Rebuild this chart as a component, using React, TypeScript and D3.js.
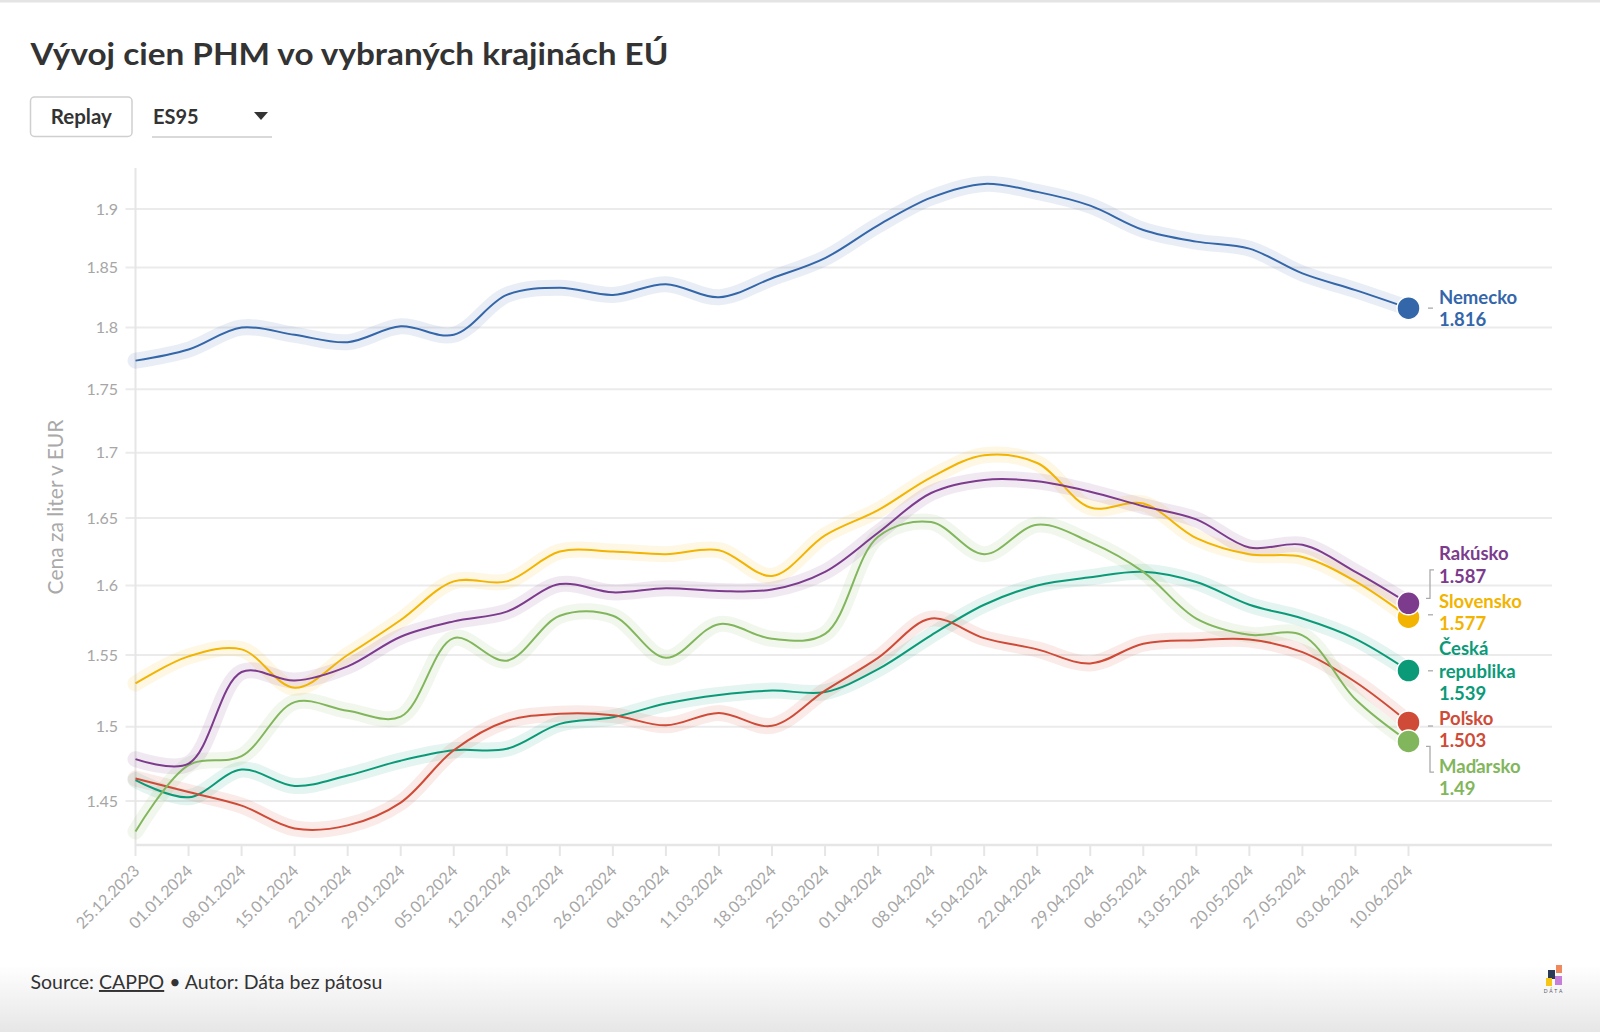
import React from "react";
import * as d3 from "d3";

const dates = ["25.12.2023","01.01.2024","08.01.2024","15.01.2024","22.01.2024","29.01.2024","05.02.2024","12.02.2024","19.02.2024","26.02.2024","04.03.2024","11.03.2024","18.03.2024","25.03.2024","01.04.2024","08.04.2024","15.04.2024","22.04.2024","29.04.2024","06.05.2024","13.05.2024","20.05.2024","27.05.2024","03.06.2024","10.06.2024"];

const nemecko = [1.773,1.782,1.800,1.794,1.788,1.801,1.794,1.827,1.833,1.827,1.836,1.825,1.841,1.858,1.886,1.910,1.922,1.915,1.903,1.882,1.872,1.866,1.845,1.831,1.816];
const rakusko = [1.478,1.475,1.538,1.532,1.542,1.563,1.574,1.581,1.601,1.595,1.598,1.596,1.597,1.610,1.639,1.669,1.679,1.678,1.670,1.659,1.649,1.628,1.630,1.610,1.587];
const slovensko = [1.530,1.549,1.554,1.527,1.550,1.575,1.603,1.603,1.625,1.625,1.623,1.626,1.607,1.637,1.656,1.681,1.698,1.692,1.658,1.661,1.635,1.623,1.621,1.603,1.577];
const ceska = [1.464,1.4525,1.471,1.460,1.467,1.477,1.484,1.485,1.502,1.5065,1.516,1.522,1.525,1.524,1.540,1.564,1.586,1.600,1.606,1.610,1.6025,1.586,1.576,1.5615,1.539];
const polsko = [1.465,1.456,1.447,1.432,1.434,1.449,1.484,1.504,1.509,1.508,1.501,1.5095,1.5007,1.525,1.548,1.576,1.562,1.554,1.544,1.558,1.5605,1.561,1.552,1.531,1.503];
const madarsko = [1.430,1.474,1.480,1.517,1.511,1.507,1.562,1.546,1.578,1.578,1.548,1.572,1.5615,1.565,1.636,1.647,1.623,1.645,1.632,1.610,1.576,1.5644,1.564,1.519,1.49];

const seriesNames = ["Nemecko","Rakúsko","Slovensko","Česká republika","Poľsko","Maďarsko"];
const seriesColors = ["#3466aa","#7c3b8d","#f2b400","#0b9a78","#cf4b37","#82b65c"];
const seriesValues = [nemecko, rakusko, slovensko, ceska, polsko, madarsko];
const drawOrder = [2, 3, 4, 5, 1, 0];

const yTicks = [1.45,1.5,1.55,1.6,1.65,1.7,1.75,1.8,1.85,1.9];
const yDomain = [1.4212, 1.936];

const title = "Vývoj cien PHM vo vybraných krajinách EÚ";
const yAxisTitle = "Cena za liter v EUR";

const FONT = "Lato, 'Source Sans Pro', sans-serif";

export default function App() {
  const parse = d3.timeParse("%d.%m.%Y");
  const xDates = dates.map((d) => parse(d) as Date);
  const X0 = 135.5, X1 = 1408.5, RIGHT = 1552, TOP = 168, BOTTOM = 845;
  const x = d3.scaleTime().domain([xDates[0], xDates[xDates.length - 1]]).range([X0, X1]);
  const y = d3.scaleLog().domain(yDomain).range([BOTTOM, TOP]);
  const line = d3
    .line<number>()
    .x((_, i) => x(xDates[i]))
    .y((v) => y(v))
    .curve(d3.curveCatmullRom.alpha(0.5));

  // label placement
  const LFS = 18.5, LH = 22.2, CAP = 13.3, GAP = 12;
  type Item = { i: number; lines: string[]; desired: number; slot: number };
  const items: Item[] = seriesValues
    .map((vals, i) => {
      const last = vals[vals.length - 1];
      const lines = [...seriesNames[i].split(" "), String(last)];
      return { i, lines, desired: y(last), slot: CAP + LH * (lines.length - 1) + GAP };
    })
    .sort((a, b) => a.desired - b.desired);
  type G = { items: Item[]; top: number; h: number };
  const groups: G[] = [];
  for (const it of items) {
    groups.push({ items: [it], top: it.desired - it.slot / 2, h: it.slot });
    while (groups.length > 1) {
      const b = groups[groups.length - 1];
      const a = groups[groups.length - 2];
      if (a.top + a.h <= b.top) break;
      const merged = [...a.items, ...b.items];
      let off = 0, sum = 0;
      merged.forEach((m) => {
        sum += m.desired - (off + m.slot / 2);
        off += m.slot;
      });
      groups.splice(groups.length - 2, 2, { items: merged, top: sum / merged.length, h: off });
    }
  }
  const placed: (Item & { center: number; baseline: number })[] = [];
  groups.forEach((g) => {
    let off = g.top;
    g.items.forEach((m) => {
      const c = off + m.slot / 2;
      placed.push({ ...m, center: c, baseline: c - (LH * (m.lines.length - 1) - CAP) / 2 });
      off += m.slot;
    });
  });

  const lastX = x(xDates[xDates.length - 1]);
  const LABEL_X = 1439;

  return (
    <div style={{ position: "absolute", left: 0, top: 0, width: 1600, height: 1032 }}>
      <svg width={1600} height={1032} style={{ display: "block", fontFamily: FONT }}>
        <defs>
          <linearGradient id="foot" x1="0" y1="0" x2="0" y2="1">
            <stop offset="0" stopColor="#ffffff" />
            <stop offset="1" stopColor="#e6e6e6" />
          </linearGradient>
        </defs>
        <rect x={0} y={0} width={1600} height={1032} fill="#fff" />
        <rect x={0} y={965} width={1600} height={67} fill="url(#foot)" />
        <rect x={0} y={0} width={1600} height={2.5} fill="#e4e4e4" />

        {/* title */}
        <text x={30.5} y={65} fontSize={31} fontWeight={700} fill="#333" textLength={638} lengthAdjust="spacingAndGlyphs">
          {title}
        </text>

        {/* controls */}
        <rect x={30.5} y={97} width={101.5} height={39.5} rx={4} fill="#fff" stroke="#cfcfcf" strokeWidth={1.5} />
        <text x={81.3} y={123.5} fontSize={20.5} fontWeight={700} fill="#333" textAnchor="middle">Replay</text>
        <text x={153} y={123.5} fontSize={20} fontWeight={700} fill="#333">ES95</text>
        <line x1={152} x2={272} y1={137} y2={137} stroke="#d9d9d9" strokeWidth={2} />
        <path d="M254,112 L268,112 L261,120 Z" fill="#333" />

        {/* gridlines */}
        {yTicks.map((t) => (
          <g key={t}>
            <line x1={X0 - 10} x2={RIGHT} y1={y(t)} y2={y(t)} stroke="#ebebeb" strokeWidth={2} />
            <text x={118} y={y(t)} dy="0.35em" fontSize={16} fill="#a6a6a6" textAnchor="end">
              {String(t)}
            </text>
          </g>
        ))}
        <line x1={X0} x2={X0} y1={TOP} y2={BOTTOM} stroke="#e6e6e6" strokeWidth={2} />
        <line x1={X0} x2={RIGHT} y1={BOTTOM} y2={BOTTOM} stroke="#e6e6e6" strokeWidth={2.5} />

        {/* x ticks */}
        {xDates.map((d, i) => (
          <g key={dates[i]}>
            <line x1={x(d)} x2={x(d)} y1={BOTTOM} y2={BOTTOM + 11} stroke="#e6e6e6" strokeWidth={2} />
            <text
              transform={`translate(${x(d) + 5},${BOTTOM + 27}) rotate(-45)`}
              fontSize={16}
              fill="#a6a6a6"
              textAnchor="end"
            >
              {dates[i]}
            </text>
          </g>
        ))}

        {/* y axis title */}
        <text
          transform="translate(63,507) rotate(-90)"
          fontSize={21}
          fill="#a9a9a9"
          textAnchor="middle"
        >
          {yAxisTitle}
        </text>

        {/* halos */}
        {drawOrder.map((i) => (
          <path
            key={"h" + i}
            d={line(seriesValues[i]) || ""}
            fill="none"
            stroke={seriesColors[i]}
            strokeOpacity={0.11}
            strokeWidth={16}
            strokeLinecap="round"
            strokeLinejoin="round"
          />
        ))}
        {/* lines */}
        {drawOrder.map((i) => (
          <path
            key={"l" + i}
            d={line(seriesValues[i]) || ""}
            fill="none"
            stroke={seriesColors[i]}
            strokeWidth={2}
            strokeLinejoin="round"
          />
        ))}
        {/* dots */}
        {drawOrder.map((i) => {
          const vals = seriesValues[i];
          return (
            <circle
              key={"c" + i}
              cx={lastX}
              cy={y(vals[vals.length - 1])}
              r={11.5}
              fill={seriesColors[i]}
              stroke="#fff"
              strokeWidth={1.5}
            />
          );
        })}

        {/* connectors and labels */}
        {placed.map((p) => {
          const dotY = p.desired;
          const d = p.center - dotY;
          let path: string;
          if (Math.abs(d) <= 10) {
            const m = (p.center + dotY) / 2;
            path = `M1428,${m}H1433`;
          } else {
            const s = Math.sign(d);
            const a = dotY + 5 * s;
            const b = p.center - 5 * s;
            path = `M1426,${a}H1430V${b}H1434`;
          }
          return (
            <g key={"lab" + p.i}>
              <path d={path} fill="none" stroke="#aaa" strokeWidth={1.3} />
              <text
                x={LABEL_X}
                y={p.baseline}
                fontSize={LFS}
                fontWeight={700}
                fill={seriesColors[p.i]}
              >
                {p.lines.map((ln, k) => (
                  <tspan key={k} x={LABEL_X} dy={k === 0 ? 0 : LH}>
                    {ln}
                  </tspan>
                ))}
              </text>
            </g>
          );
        })}

        {/* footer */}
        <text x={30.5} y={989} fontSize={19.5} fill="#333">
          <tspan>Source: </tspan>
          <tspan textDecoration="underline" style={{ textDecoration: "underline" }}>CAPPO</tspan>
          <tspan> • Autor: Dáta bez pátosu</tspan>
        </text>

        {/* logo */}
        <g>
          <rect x={1556} y={965} width={6} height={8} fill="#f08a5d" />
          <rect x={1548} y={970} width={7} height={9} fill="#2b3a55" />
          <rect x={1546} y={978} width={6} height={8} fill="#f5c518" />
          <rect x={1555} y={976} width={7} height={9} fill="#c77dda" />
          <text x={1554} y={993} fontSize={5} fill="#556" textAnchor="middle" letterSpacing={2}>DÁTA</text>
        </g>
      </svg>
    </div>
  );
}
